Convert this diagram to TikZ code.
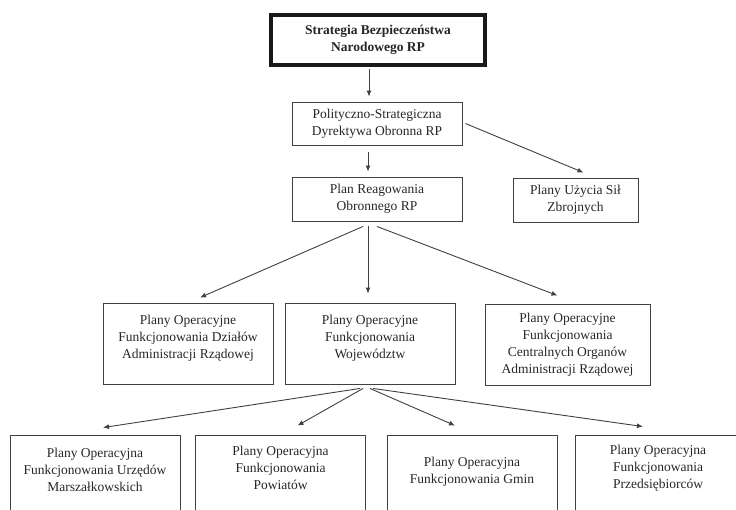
\documentclass[tikz,border=0pt]{standalone}
\usepackage{fontspec}
\setmainfont{Liberation Serif}
\usetikzlibrary{arrows.meta,calc}
\begin{document}
\begin{tikzpicture}[x=1pt,y=-1pt,
  box/.style={draw=black!75,line width=0.9pt,inner sep=0pt,align=center,
    font=\fontsize{13.5}{17}\selectfont,text=black!85},
  txt/.style={inner sep=0pt,align=center,font=\fontsize{13.5}{17}\selectfont,text=black!85},
  arr/.style={draw=black!75,line width=0.9pt,-{Latex[length=6pt,width=5pt]}}]
\useasboundingbox (0,0) rectangle (736,509);
\clip (0,0) rectangle (736,509);
% top
\node[box,line width=3.6pt,draw=black!90,minimum width=214pt,minimum height=50pt,font=\fontsize{13.5}{17}\selectfont\bfseries]
  (top) at (378,40) {Strategia Bezpieczeństwa\\Narodowego RP};
\node[box,minimum width=170pt,minimum height=43pt] (p2) at (377,123.5) {Polityczno-Strategiczna\\Dyrektywa Obronna RP};
\node[box,minimum width=170pt,minimum height=44pt] (p3) at (377,199) {Plan Reagowania\\Obronnego RP};
\node[box,minimum width=125pt,minimum height=44pt] (p4) at (575.5,200) {Plany Użycia Sił\\Zbrojnych};
% row 3
\node[box,minimum width=170pt,minimum height=81pt] (A) at (188,343.5) {};
\node[txt] at (188,338) {Plany Operacyjne\\Funkcjonowania Działów\\Administracji Rządowej};
\node[box,minimum width=170pt,minimum height=81pt] (B) at (370,343.5) {};
\node[txt] at (370,338) {Plany Operacyjne\\Funkcjonowania\\Województw};
\node[box,minimum width=165pt,minimum height=81pt] (C) at (567.5,344.5) {Plany Operacyjne\\Funkcjonowania\\Centralnych Organów\\Administracji Rządowej};
% row 4
\node[box,minimum width=170pt,minimum height=95pt] (r1) at (95,482.5) {};
\node[txt] at (95,470) {Plany Operacyjna\\Funkcjonowania Urzędów\\Marszałkowskich};
\node[box,minimum width=170pt,minimum height=95pt] (r2) at (280.5,482.5) {};
\node[txt] at (280.5,467.5) {Plany Operacyjna\\Funkcjonowania\\Powiatów};
\node[box,minimum width=170pt,minimum height=95pt] (r3) at (472,482.5) {};
\node[txt] at (472,472) {Plany Operacyjna\\Funkcjonowania Gmin};
\node[box,minimum width=170pt,minimum height=95pt] (r4) at (660,482.5) {};
\node[txt] at (658,468) {Plany Operacyjna\\Funkcjonowania\\Przedsiębiorców};
% connectors
\draw[arr] ($(top.south)+(-9,2)$) -- ($(p2.north)+(-8,-5)$);
\draw[arr] ($(p2.south)+(-9,7)$) -- ($(p3.north)+(-9,-5)$);
\draw[arr] ($(p2.east)+(3,0)$) -- ($(p4.north)+(8,-5)$);
\draw[arr] ($(p3.south)+(-14,5)$) -- ($(A.north)+(12,-5)$);
\draw[arr] ($(p3.south)+(-9,5)$) -- ($(B.north)+(-2,-9)$);
\draw[arr] ($(p3.south)+(0,5)$) -- ($(C.north)+(-10,-8)$);
\draw[arr] ($(B.south)+(-10,4)$) -- ($(r1.north)+(8,-7)$);
\draw[arr] ($(B.south)+(-7,4)$) -- ($(r2.north)+(17,-9)$);
\draw[arr] ($(B.south)+(0,4)$) -- ($(r3.north)+(-17,-9)$);
\draw[arr] ($(B.south)+(3,4)$) -- ($(r4.north)+(-17,-8)$);
\end{tikzpicture}
\end{document}
